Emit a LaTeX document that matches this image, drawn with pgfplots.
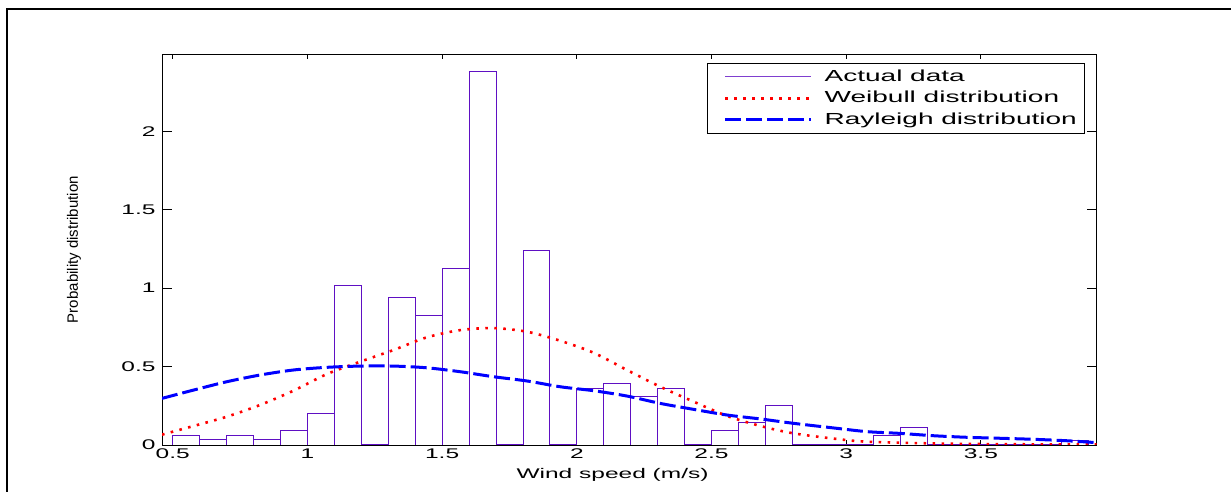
\documentclass[border=0pt]{standalone}
\usepackage{fontspec}
\setmainfont{Liberation Sans}[FakeStretch=1.75]
\newfontfamily\ylabfont{Liberation Sans}
\usepackage{pgfplots}
\pgfplotsset{compat=1.18}
\definecolor{histc}{RGB}{95,15,195}

\begin{document}
\begin{tikzpicture}
\useasboundingbox (0,0) rectangle (1231bp,492bp);
% outer figure frame (only top and left edges are visible)
\draw[line width=1.7bp] (7bp,0) -- (7bp,482.7bp) -- (1231bp,482.7bp);
\begin{axis}[
  at={(162bp,47bp)}, anchor=south west,
  scale only axis, width=934.7bp, height=390.7bp,
  xmin=0.46, xmax=3.93, ymin=0, ymax=2.49,
  xtick={0.5,1,1.5,2,2.5,3,3.5},
  ytick={0,0.5,1,1.5,2},
  axis line style={line width=1bp},
  tick style={black, line width=0.8bp},
  xtick style={/pgfplots/major tick length=4.5bp},
  ytick style={/pgfplots/major tick length=10bp},
  /pgf/number format/assume math mode=true,
  every tick label/.append style={font=\fontsize{14bp}{16bp}\selectfont},
  yticklabel style={xshift=-3bp},
  xlabel={Wind speed (m/s)},
  xlabel style={at={(rel axis cs:0.482,0)}, anchor=north, yshift=-20bp,
    font=\fontsize{14bp}{16bp}\selectfont},
  ylabel={\ylabfont Probability distribution},
  ylabel style={at={(rel axis cs:-0.0941,0.5)}, anchor=center,
    font=\fontsize{15bp}{17bp}\selectfont},
  legend style={at={(rel axis cs:1,1)}, anchor=north east,
    xshift=-11.4bp, yshift=-8.4bp, draw=black, line width=1bp,
    font=\fontsize{16bp}{18bp}\selectfont, row sep=0bp,
    inner xsep=6bp, inner ysep=3bp,
    nodes={text height=12bp, text depth=3.5bp, inner ysep=3bp}},
  legend cell align=left,
  legend image code/.code={\path (-10bp,0bp) (96bp,0bp);
    \draw[#1] (0bp,0bp) -- (86bp,0bp);},
]
\addplot[ybar interval, draw=histc, fill=none, line width=0.9bp,
  legend image code/.code={\path (-10bp,0bp) (96bp,0bp);
    \draw[histc!80, line width=0.9bp] (0bp,0bp) -- (86bp,0bp);}]
  coordinates {
  (0.5,0.062) (0.6,0.036) (0.7,0.062) (0.8,0.036) (0.9,0.093)
  (1.0,0.200) (1.1,1.017) (1.2,0.003) (1.3,0.938) (1.4,0.828)
  (1.5,1.127) (1.6,2.378) (1.7,0.003) (1.8,1.238) (1.9,0.003)
  (2.0,0.361) (2.1,0.393) (2.2,0.312) (2.3,0.361) (2.4,0.003)
  (2.5,0.093) (2.6,0.145) (2.7,0.253) (2.8,0.003) (2.9,0.003)
  (3.0,0.003) (3.1,0.062) (3.2,0.113) (3.3,0.003) (3.4,0.003)
  (3.5,0.003) (3.6,0.003) (3.7,0.003) (3.8,0.032) (3.9,0)
  };
\addlegendentry{Actual data}
\addplot[red, line width=2.6bp, dash pattern=on 2.6bp off 6.4bp, smooth]
  coordinates {
  (0.46,0.066) (0.577,0.121) (0.70,0.180) (0.824,0.255) (0.948,0.346)
  (1.072,0.452) (1.196,0.531) (1.319,0.605) (1.443,0.686) (1.567,0.732)
  (1.691,0.745) (1.815,0.722) (1.939,0.664) (2.062,0.588) (2.186,0.478)
  (2.310,0.371) (2.434,0.276) (2.558,0.185) (2.682,0.121) (2.805,0.074)
  (2.967,0.038) (3.078,0.021) (3.32,0.010) (3.60,0.005) (3.93,0.003)
  };
\addlegendentry{Weibull distribution}
\addplot[blue, line width=3bp, dash pattern=on 16bp off 5bp, smooth]
  coordinates {
  (0.46,0.297) (0.577,0.350) (0.70,0.403) (0.824,0.446) (0.948,0.478)
  (1.072,0.495) (1.196,0.503) (1.319,0.503) (1.443,0.492) (1.567,0.467)
  (1.691,0.435) (1.815,0.408) (1.939,0.371) (2.062,0.346) (2.186,0.312)
  (2.310,0.265) (2.434,0.227) (2.558,0.191) (2.682,0.166) (2.805,0.138)
  (2.967,0.106) (3.078,0.085) (3.20,0.074) (3.325,0.059) (3.45,0.049)
  (3.57,0.043) (3.70,0.036) (3.82,0.027) (3.93,0.015)
  };
\addlegendentry{Rayleigh distribution}
\end{axis}
\end{tikzpicture}
\end{document}
